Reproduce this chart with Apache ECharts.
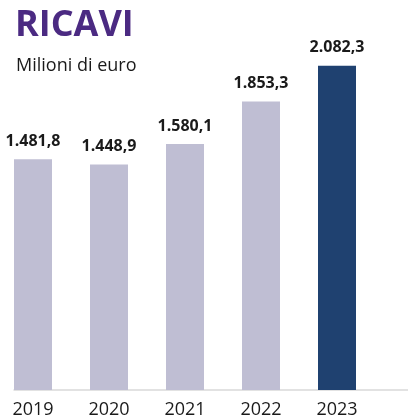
<!DOCTYPE html>
<html>
<head>
<meta charset="utf-8">
<script src="https://cdn.jsdelivr.net/npm/echarts@6/dist/echarts.min.js"></script>
<style>html,body{margin:0;padding:0;background:#fff}#c{width:408px;height:420px}</style>
</head>
<body>
<div id="c"></div>
<script>
var categories = ['2019', '2020', '2021', '2022', '2023', ''];
var values = [1481.8, 1448.9, 1580.1, 1853.3, 2082.3];
var highlightIndex = 4;
var labelTexts = ['1.481,8', '1.448,9', '1.580,1', '1.853,3', '2.082,3'];

var FONT = '"Open Sans", "Noto Sans", sans-serif';
var chart = echarts.init(document.getElementById('c'));
var barData = values.map(function (v, i) {
  return {
    value: v,
    itemStyle: { color: i === highlightIndex ? '#1F4170' : '#BFBED3' }
  };
});
chart.setOption({
  animation: false,
  title: [
    { text: 'RICAVI', left: 15, top: 8, padding: 0,
      textStyle: { fontFamily: FONT, fontSize: 36, fontWeight: 'bold', color: '#4B2A82' } },
    { text: 'Milioni di euro', left: 16, top: 57, padding: 0,
      textStyle: { fontFamily: FONT, fontSize: 18, fontWeight: 'normal', color: '#1a1a1a' } }
  ],
  grid: { left: 14, right: -62, top: 47.5, bottom: 30, outerBoundsMode: 'none', containLabel: false },
  xAxis: {
    type: 'category',
    data: categories,
    axisLine: { show: true, lineStyle: { color: '#D9D9D9', width: 1.5 } },
    axisTick: { show: false },
    axisLabel: {
      margin: 11, fontFamily: FONT, fontSize: 18, color: '#1a1a1a',
      padding: [0, 38, 0, 0], interval: 0
    }
  },
  yAxis: {
    type: 'value', min: 0, max: 2200,
    show: false, splitLine: { show: false }
  },
  series: [
    {
      type: 'bar', data: barData, barWidth: 38, barGap: 0,
      label: {
        show: true, position: 'top', distance: 10,
        fontFamily: FONT, fontSize: 16, fontWeight: 'bold', color: '#1a1a1a',
        formatter: function (p) { return labelTexts[p.dataIndex]; }
      }
    },
    { type: 'bar', data: [], barWidth: 38, barGap: 0 }
  ]
});
</script>
</body>
</html>
